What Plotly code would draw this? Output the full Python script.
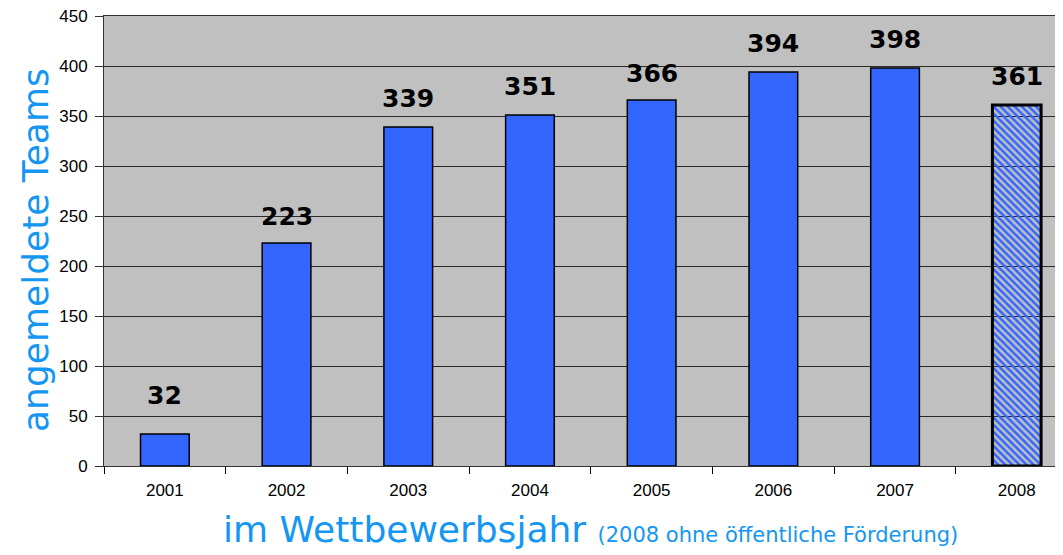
import plotly.graph_objects as go

years = ["2001", "2002", "2003", "2004", "2005", "2006", "2007", "2008"]
teams = [32, 223, 339, 351, 366, 394, 398, 361]
y_ticks = [0, 50, 100, 150, 200, 250, 300, 350, 400, 450]

blue = "#3366FF"
title_blue = "#1496F2"
label_shift = [22, 10, 12, 12, 10, 12, 12, 12]

fig = go.Figure()
fig.add_trace(go.Bar(
    x=years, y=teams, width=0.4,
    marker=dict(
        color=[blue] * 8,
        line=dict(color="black", width=[1.5] * 7 + [3]),
        pattern=dict(shape=[""] * 7 + ["\\"], fgcolor=["#0A0AFF"] * 8,
                     bgcolor=["#F4F6FF"] * 8, fillmode="replace",
                     size=5, solidity=0.5),
    ),
    showlegend=False, hoverinfo="skip",
))

for i, v in enumerate(teams):
    fig.add_annotation(x=i, y=v, text=f"<b>{v}</b>", showarrow=False,
                       yanchor="bottom", yshift=label_shift[i],
                       font=dict(family="DejaVu Sans", size=25, color="black"))

fig.add_annotation(xref="paper", yref="paper", x=0.507, y=-0.092, yanchor="top",
                   text="im Wettbewerbsjahr <span style='font-size:21px'>(2008 ohne öffentliche Förderung)</span>",
                   showarrow=False, font=dict(family="DejaVu Sans", size=36, color=title_blue))
fig.add_annotation(xref="paper", yref="paper", x=-0.072, y=0.48, xanchor="center",
                   text="angemeldete Teams", textangle=-90, showarrow=False,
                   font=dict(family="DejaVu Sans", size=36, color=title_blue))

fig.update_layout(
    width=1055, height=547,
    margin=dict(l=96, r=0, t=8, b=89),
    paper_bgcolor="white", plot_bgcolor="#C0C0C0",
    xaxis=dict(type="category", range=[-0.5, 7.38], tickson="boundaries",
               ticks="outside", ticklen=7, tickcolor="black",
               showline=True, linecolor="#333", linewidth=1, mirror=True,
               showgrid=False, ticklabelstandoff=9,
               tickfont=dict(family="Liberation Sans", size=17, color="black")),
    yaxis=dict(range=[0, 450], tickvals=y_ticks, ticks="outside", ticklen=8,
               tickcolor="#333", showline=True, linecolor="#333", linewidth=1,
               gridcolor="#2a2a2a", gridwidth=1, zeroline=False,
               ticklabeloverflow="allow", ticklabelstandoff=4,
               tickfont=dict(family="Liberation Sans", size=17, color="black")),
)

fig.write_html("out.html")
